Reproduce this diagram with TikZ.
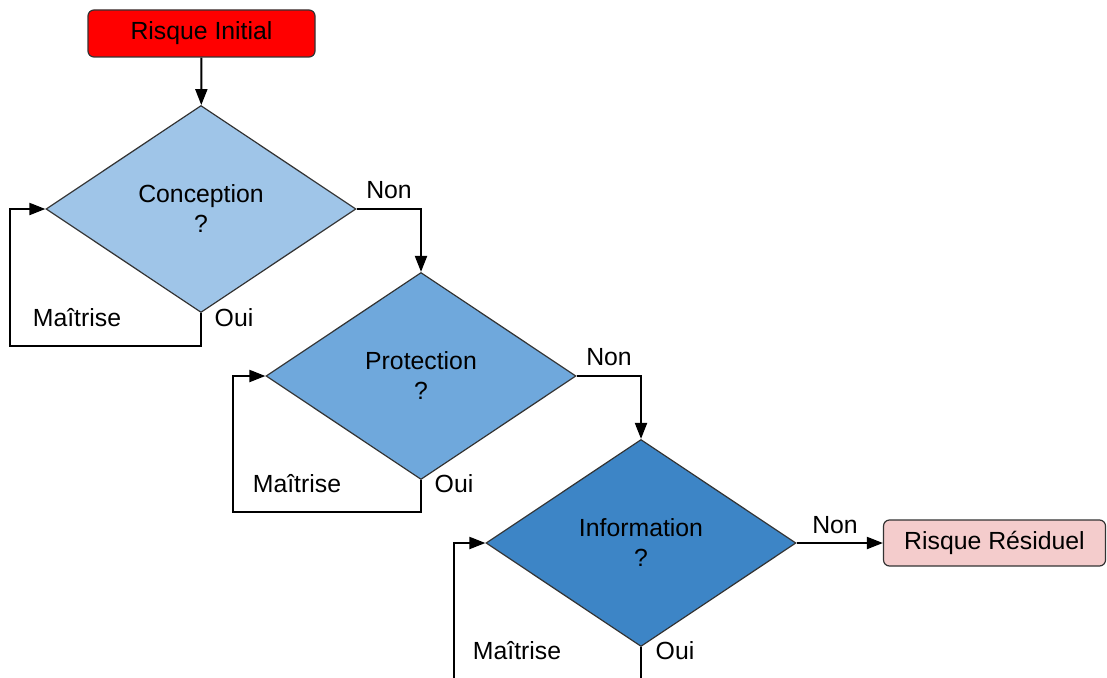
\documentclass[tikz,border=0pt]{standalone}
\usepackage{fontspec}
\setmainfont{Liberation Sans}
\usepackage{tikz}
\usetikzlibrary{shapes.geometric,arrows.meta}
\definecolor{boxred}{HTML}{FF0000}
\definecolor{boxpink}{HTML}{F4CCCC}
\definecolor{blueA}{HTML}{9FC5E8}
\definecolor{blueB}{HTML}{6FA8DC}
\definecolor{blueC}{HTML}{3D85C6}
\definecolor{edge}{HTML}{333333}

\begin{document}
\begin{tikzpicture}[x=1pt,y=-1pt,
  font=\fontsize{24.8}{29}\selectfont,
  box/.style={draw=edge,line width=1.2pt,rounded corners=6pt,inner sep=0pt},
  test/.style={draw=edge,line width=1.2pt,diamond,inner sep=0pt,align=center,
    minimum width=310pt,minimum height=207pt},
  flow/.style={line width=2pt,-{Triangle[length=16pt,width=12pt]}},
  lbl/.style={inner sep=0pt}]
\useasboundingbox (0,0) rectangle (1107,677);
\clip (0,0) rectangle (1107,677);
\node[box,fill=boxred,minimum width=227pt,minimum height=47pt] (init) at (201.5,33.5) {Risque Initial};
\node[test,fill=blueA] (conc) at (201,209) {Conception\\[1pt]?};
\node[test,fill=blueB] (prot) at (421,376) {Protection\\[1pt]?};
\node[test,fill=blueC] (info) at (641,543) {Information\\[1pt]?};
\node[box,fill=boxpink,minimum width=222pt,minimum height=46pt] (resid) at (994.5,543) {Risque R\'esiduel};
\draw[flow] (init) -- (conc);
\draw[flow] (conc.east) -| (prot.north);
\draw[flow] (prot.east) -| (info.north);
\draw[flow] (info.east) -- (resid.west);
\draw[flow] (conc.south) -- ++(0,33) -| ([xshift=-35pt]conc.west) -- (conc.west);
\draw[flow] (prot.south) -- ++(0,32) -| ([xshift=-32pt]prot.west) -- (prot.west);
\draw[flow] (info.south) -- ++(0,45) -| ([xshift=-31pt]info.west) -- (info.west);
\node[lbl] (non1) at (389,190) {Non};
\node[lbl] (non2) at (609,357) {Non};
\node[lbl] (non3) at (835,525) {Non};
\node[lbl] (oui1) at (234,318) {Oui};
\node[lbl] (oui2) at (454,484) {Oui};
\node[lbl] (oui3) at (675,651) {Oui};
\node[lbl] (mai1) at (77,318) {Maîtrise};
\node[lbl] (mai2) at (297,484) {Maîtrise};
\node[lbl] (mai3) at (517,651) {Maîtrise};
\end{tikzpicture}
\end{document}
